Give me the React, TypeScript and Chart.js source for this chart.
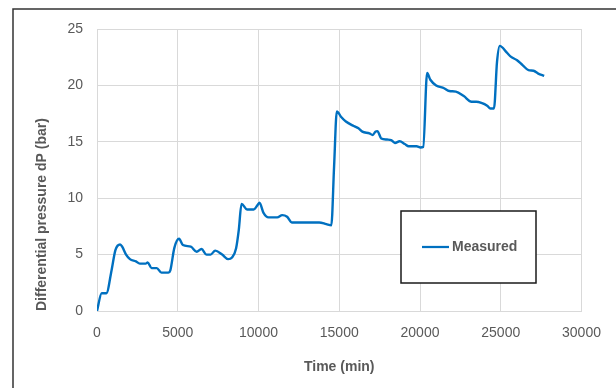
import React, { useEffect, useRef } from "react";
import { Chart, registerables } from "chart.js";

Chart.register(...registerables);

// ---- data ----
const timeMin = [
  0, 290, 580, 900, 1140, 1430, 1560, 1800, 2040, 2410, 2650, 3010, 3140, 3380, 3700, 3990, 4420, 4540, 4790,
  5080, 5320, 5810, 6170, 6470, 6780, 7030, 7320, 7750, 8120, 8360, 8610, 8780, 8950, 9290, 9700, 9900,
  10060, 10310, 10620, 11160, 11470, 11770, 12060, 12740, 13760, 14200, 14510, 14680, 14850, 15120, 15410,
  15900, 16190, 16430, 16870, 17070, 17240, 17360, 17600, 17960, 18210, 18450, 18740, 19060, 19300, 19790,
  20030, 20200, 20440, 20640, 21000, 21490, 21810, 22220, 22710, 23190, 23480, 23800, 24160, 24360, 24580,
  24770, 24940, 25380, 25620, 25990, 26350, 26720, 27030, 27320, 27690,
];
const dPbar = [
  0, 1.57, 1.57, 3.6, 5.4, 5.9, 5.7, 5.0, 4.6, 4.4, 4.2, 4.2, 4.3, 3.8, 3.8, 3.4, 3.4, 3.6, 5.6,
  6.4, 5.85, 5.7, 5.25, 5.5, 5.0, 5.0, 5.35, 5.0, 4.6, 4.75, 5.55, 7.2, 9.5, 9.0, 9.0, 9.3,
  9.6, 8.7, 8.3, 8.3, 8.5, 8.35, 7.85, 7.85, 7.85, 7.7, 7.6, 12.8, 17.7, 17.2, 16.8,
  16.4, 16.2, 15.9, 15.75, 15.6, 15.9, 15.95, 15.3, 15.2, 15.15, 14.9, 15.05, 14.8, 14.6, 14.6,
  14.5, 14.55, 21.1, 20.5, 20.0, 19.75, 19.5, 19.45, 19.05, 18.55, 18.55, 18.45, 18.2, 17.95, 17.95,
  22.1, 23.5, 22.9, 22.55, 22.25, 21.8, 21.35, 21.3, 21.05, 20.85,
];
const xTicks = [0, 5000, 10000, 15000, 20000, 25000, 30000];
const yTicks = [0, 5, 10, 15, 20, 25];
const seriesLabel = "Measured";
const xTitle = "Time (min)";
const yTitle = "Differential pressure dP (bar)";

const LINE_COLOR = "#0070C0";
const TEXT_COLOR = "#595959";
const GRID_COLOR = "#d9d9d9";
const FONT = "'Liberation Sans', Arial, sans-serif";

const framePlugin = {
  id: "framePlugin",
  beforeDraw(chart: any) {
    const { ctx, width, height } = chart;
    ctx.save();
    ctx.fillStyle = "#ffffff";
    ctx.fillRect(0, 0, width, height);
    ctx.strokeStyle = "#333333";
    ctx.lineWidth = 1.5;
    ctx.beginPath();
    ctx.moveTo(13, height + 2);
    ctx.lineTo(13, 9);
    ctx.lineTo(width + 2, 9);
    ctx.stroke();
    ctx.restore();
  },
  afterDraw(chart: any) {
    const { ctx } = chart;
    const ds = chart.data.datasets[0];
    ctx.save();
    // legend box
    ctx.fillStyle = "#ffffff";
    ctx.fillRect(401, 211, 135, 72);
    ctx.strokeStyle = "#1a1a1a";
    ctx.lineWidth = 1.5;
    ctx.strokeRect(401, 211, 135, 72);
    ctx.strokeStyle = ds.borderColor;
    ctx.lineWidth = 2.25;
    ctx.beginPath();
    ctx.moveTo(422, 247);
    ctx.lineTo(449, 247);
    ctx.stroke();
    ctx.fillStyle = TEXT_COLOR;
    ctx.font = `bold 14px ${FONT}`;
    ctx.textBaseline = "middle";
    ctx.textAlign = "left";
    ctx.fillText(ds.label, 452, 247);
    ctx.restore();
  },
};

export default function App() {
  const canvasRef = useRef<HTMLCanvasElement | null>(null);

  useEffect(() => {
    document.body.style.margin = "0";
    const canvas = canvasRef.current;
    if (!canvas) return;
    const points = timeMin.map((t, i) => ({ x: t, y: dPbar[i] }));
    const chart = new Chart(canvas, {
      type: "line",
      data: {
        datasets: [
          {
            label: seriesLabel,
            data: points,
            borderColor: LINE_COLOR,
            backgroundColor: LINE_COLOR,
            borderWidth: 2.4,
            pointRadius: 0,
            cubicInterpolationMode: "monotone",
            fill: false,
          },
        ],
      },
      options: {
        animation: false,
        responsive: false,
        devicePixelRatio: 1,
        layout: { padding: { top: 29, right: 34.5, left: 0, bottom: 0 } },
        plugins: { legend: { display: false }, tooltip: { enabled: false } },
        scales: {
          x: {
            type: "linear",
            min: 0,
            max: 30000,
            afterBuildTicks: (scale: any) => {
              scale.ticks = xTicks.map((v) => ({ value: v }));
            },
            afterFit: (scale: any) => {
              scale.height = 77;
            },
            grid: { color: GRID_COLOR, lineWidth: 1, drawTicks: false },
            border: { color: GRID_COLOR, width: 1 },
            ticks: {
              color: TEXT_COLOR,
              font: { family: FONT, size: 14 },
              padding: 14,
              maxRotation: 0,
              callback: (v: any) => String(v),
            },
            title: {
              display: true,
              text: xTitle,
              color: TEXT_COLOR,
              font: { family: FONT, size: 14, weight: "bold" },
              padding: { top: 0, bottom: 12 },
            },
          },
          y: {
            type: "linear",
            min: 0,
            max: 25,
            afterBuildTicks: (scale: any) => {
              scale.ticks = yTicks.map((v) => ({ value: v }));
            },
            afterFit: (scale: any) => {
              scale.width = 97;
            },
            grid: { color: GRID_COLOR, lineWidth: 1, drawTicks: false },
            border: { color: GRID_COLOR, width: 1 },
            ticks: {
              color: TEXT_COLOR,
              font: { family: FONT, size: 14 },
              padding: 14,
              callback: (v: any) => String(v),
            },
            title: {
              display: true,
              text: yTitle,
              align: "start",
              color: TEXT_COLOR,
              font: { family: FONT, size: 14, weight: "bold" },
              padding: { top: 34, bottom: 0 },
            },
          },
        },
      },
      plugins: [framePlugin],
    } as any);
    return () => chart.destroy();
  }, []);

  return (
    <div style={{ position: "absolute", left: 0, top: 0, width: 616, height: 388, overflow: "hidden", background: "#fff" }}>
      <canvas ref={canvasRef} width={616} height={388} style={{ display: "block", width: 616, height: 388 }} />
    </div>
  );
}
